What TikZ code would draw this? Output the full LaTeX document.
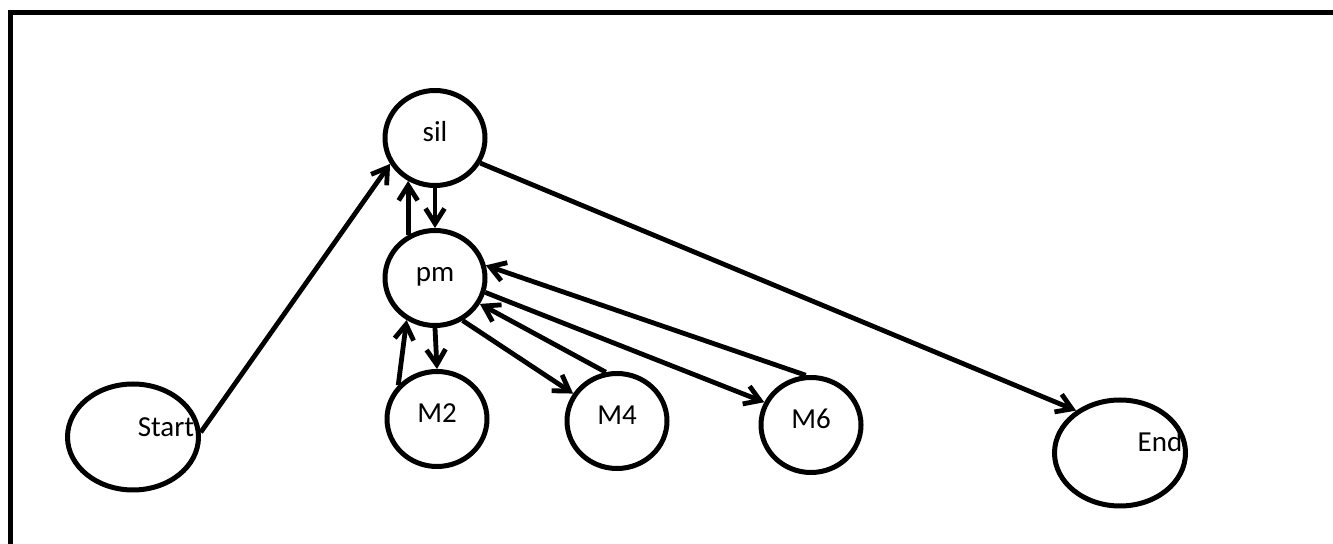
\documentclass[tikz,border=0pt]{standalone}
\usepackage{fontspec}
\setmainfont{Carlito}
\usetikzlibrary{arrows.meta,shapes.geometric}
\tikzstyle{state}=[draw=black,line width=2.5pt,ellipse,inner sep=0pt,minimum width=50pt,minimum height=47.5pt,text height=9pt,text depth=5.5pt]
\tikzstyle{bigstate}=[state,minimum width=65.5pt,minimum height=53pt]
\tikzstyle{trans}=[line width=2.4pt,-{Straight Barb[length=7.5pt,width=9.5pt]}]
\tikzstyle{frame}=[line width=2.5pt]

\begin{document}
\begin{tikzpicture}[x=0.5pt,y=-0.5pt,font=\fontsize{14.5}{17}\selectfont]
  \useasboundingbox (0,0) rectangle (1333,544);
  \draw[frame] (10.5,580) |- (1360,12.5);

  \node[bigstate,label={[xshift=16.5pt,yshift=5pt]center:Start}] (start) at (133,437) {};
  \node[bigstate,label={[xshift=20pt,yshift=5.5pt]center:End}] (end) at (1120,453) {};
  \node[state] (sil) at (435,138) {sil};
  \node[state] (pm) at (435,278) {pm};
  \node[state] (m2) at (437,419) {M2};
  \node[state] (m4) at (617,421) {M4};
  \node[state] (m6) at (811,425) {M6};

  \draw[trans] (start.4) -- (sil.210);
  \draw[trans] (sil.-29) -- (end.136);
  \draw[trans] (sil.south) -- (pm.north);
  \draw[trans] (pm.122) -- (sil.238);
  \draw[trans] (pm.south) -- (m2.north);
  \draw[trans] (m2.139) -- (pm.236);
  \draw[trans] (pm.-57) -- (m4.148);
  \draw[trans] (m4.103) -- (pm.-30);
  \draw[trans] (pm.-16) -- (m6.154);
  \draw[trans] (m6.96) -- (pm.14);
\end{tikzpicture}
\end{document}
